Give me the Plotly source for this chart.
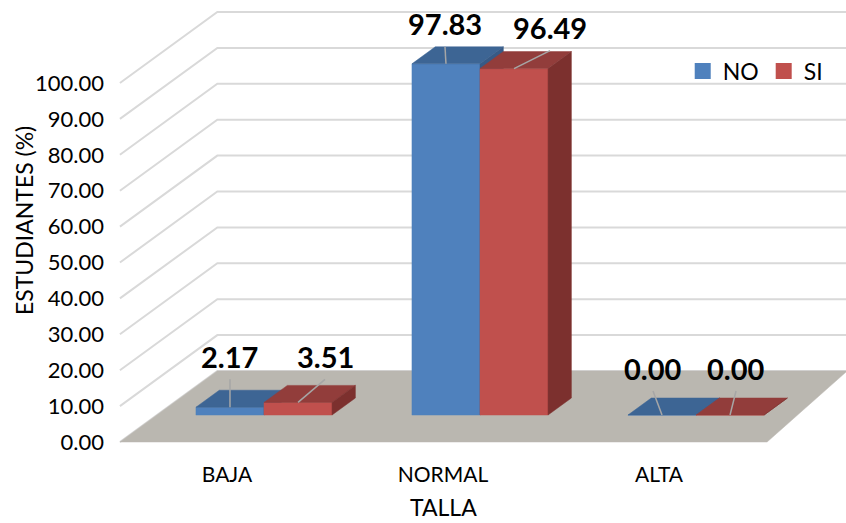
import plotly.graph_objects as go

# --- data -------------------------------------------------------------
categories = ["BAJA", "NORMAL", "ALTA"]
series_names = ["NO", "SI"]
values_no = [2.17, 97.83, 0.00]
values_si = [3.51, 96.49, 0.00]
y_ticks = [0, 10, 20, 30, 40, 50, 60, 70, 80, 90, 100]

# --- style -------------------------------------------------------------
FONT = "Lato"
FRONT = {"NO": "#4F81BD", "SI": "#C0504D"}
TOP = {"NO": "#3D6594", "SI": "#923D3B"}
SIDE = {"NO": "#375A86", "SI": "#7C302E"}
FLOOR_COLOR = "#BAB7B0"
GRID_COLOR = "#D9D9D9"
LEADER_COLOR = "#A6A6A6"

# pseudo-3D geometry (x in category units, depth expressed in value units)
BAR_WIDTH = 0.315
BAR_DEPTH = 4.74
SKEW = 0.0228          # sideways shift per unit of depth
FLOOR_FRONT = -7.52    # front edge of the floor, relative to the bar plane
WALL_BACK = 12.26      # back wall, relative to the bar plane
FLOOR_LEFT = -0.667
FLOOR_RIGHT_FRONT = 2.329
FLOOR_RIGHT_BACK = 2.70
GRID_RIGHT = 2.80
FRONT_SHIFT_PX = -37   # category labels sit on the front edge of the floor
FRONT_DROP_PX = 27     # value labels sit on the front edge of the side wall

# label offsets in pixels (dx, dy) from the bar's top front edge
LABEL_OFFSETS = {
    "NO": [(0, -51), (-1, -40), (-9, -47)],
    "SI": [(27, -46), (36, -41), (6, -47)],
}

fig = go.Figure()


def poly_trace(polys, color):
    xs, ys = [], []
    for p in polys:
        for (x, y) in p:
            xs.append(x)
            ys.append(y)
        xs.append(p[0][0])
        ys.append(p[0][1])
        xs.append(None)
        ys.append(None)
    return go.Scatter(x=xs, y=ys, mode="lines", fill="toself", fillcolor=color,
                      line=dict(width=0.5, color=color), hoverinfo="skip",
                      showlegend=False)


# back wall / side wall gridlines
gx, gy = [], []
wall_dx = (WALL_BACK - FLOOR_FRONT) * SKEW
for t in y_ticks:
    gx += [FLOOR_LEFT, FLOOR_LEFT + wall_dx, GRID_RIGHT, None]
    gy += [t + FLOOR_FRONT, t + WALL_BACK, t + WALL_BACK, None]
fig.add_trace(go.Scatter(x=gx, y=gy, mode="lines",
                         line=dict(color=GRID_COLOR, width=2),
                         hoverinfo="skip", showlegend=False))

# floor
floor = [(FLOOR_LEFT, FLOOR_FRONT), (FLOOR_RIGHT_FRONT, FLOOR_FRONT),
         (FLOOR_RIGHT_BACK, WALL_BACK), (FLOOR_LEFT + wall_dx, WALL_BACK)]
fig.add_trace(poly_trace([floor], FLOOR_COLOR))

# bars
dxd = BAR_DEPTH * SKEW
anchors = {}
for s, (name, vals) in enumerate(zip(series_names, [values_no, values_si])):
    fronts, tops, sides = [], [], []
    anchors[name] = []
    for i, v in enumerate(vals):
        x0 = i - BAR_WIDTH + s * BAR_WIDTH
        x1 = x0 + BAR_WIDTH
        fronts.append([(x0, 0), (x1, 0), (x1, v), (x0, v)])
        tops.append([(x0, v), (x1, v), (x1 + dxd, v + BAR_DEPTH), (x0 + dxd, v + BAR_DEPTH)])
        sides.append([(x1, 0), (x1 + dxd, BAR_DEPTH), (x1 + dxd, v + BAR_DEPTH), (x1, v)])
        anchors[name].append(((x0 + x1) / 2, v))
    fig.add_trace(poly_trace(fronts, FRONT[name]))
    fig.add_trace(poly_trace(tops, TOP[name]))
    fig.add_trace(poly_trace(sides, SIDE[name]))

# legend entries
for name in series_names:
    fig.add_trace(go.Scatter(x=[None], y=[None], mode="markers", name=name,
                             marker=dict(symbol="square", size=16, color=FRONT[name])))

# data labels with leader lines
shapes, annotations = [], []
for name, vals in zip(series_names, [values_no, values_si]):
    for (ax, ay), v, (dx, dy) in zip(anchors[name], vals, LABEL_OFFSETS[name]):
        shapes.append(dict(type="line", xref="x", yref="y",
                           xsizemode="pixel", ysizemode="pixel",
                           xanchor=ax, yanchor=ay,
                           x0=0, y0=0, x1=dx, y1=-(dy + 23),
                           line=dict(color=LEADER_COLOR, width=1.5)))
        annotations.append(dict(x=ax, y=ay, xref="x", yref="y", text=f"{v:.2f}",
                                showarrow=False, xshift=dx, yshift=-dy,
                                font=dict(family=FONT, size=29, color="black",
                                          weight="bold")))

# axis titles
annotations.append(dict(x=1, y=1 - 507 / 460, xref="x", yref="paper", text="TALLA",
                        showarrow=False, xshift=FRONT_SHIFT_PX, yanchor="middle",
                        font=dict(family=FONT, size=23)))
annotations.append(dict(x=24 / 846, y=1 - 221 / 460, xref="paper", yref="paper",
                        text="ESTUDIANTES (%)", textangle=-90, showarrow=False,
                        xanchor="center", yanchor="middle",
                        font=dict(family=FONT, size=23)))

fig.update_layout(
    width=846, height=523,
    margin=dict(l=0, r=0, t=0, b=63),
    paper_bgcolor="white", plot_bgcolor="white",
    font=dict(family=FONT, color="black"),
    shapes=shapes, annotations=annotations,
    showlegend=True,
    legend=dict(orientation="h", x=0.807, y=1 - 71 / 460, xanchor="left",
                yanchor="middle", font=dict(family=FONT, size=23),
                bgcolor="rgba(0,0,0,0)", itemclick=False, itemdoubleclick=False),
    xaxis=dict(range=[-1.2222, 2.6944], tickvals=[0, 1, 2], ticktext=categories,
               ticklabelshift=FRONT_SHIFT_PX, showgrid=False, zeroline=False,
               showline=False, ticks="", tickfont=dict(family=FONT, size=21),
               fixedrange=True),
    yaxis=dict(range=[-12.53, 115.6], tickvals=y_ticks, tickformat=".2f",
               ticklabelshift=FRONT_DROP_PX, anchor="free", position=120 / 846,
               ticklabelstandoff=16, showgrid=False, zeroline=False, showline=False,
               ticks="", tickfont=dict(family=FONT, size=22),
               fixedrange=True),
)

fig.write_html("out.html")
